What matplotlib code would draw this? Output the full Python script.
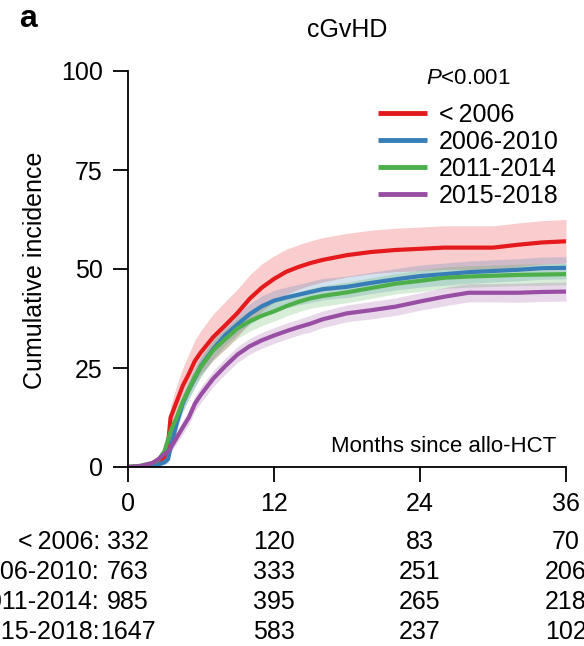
import matplotlib
matplotlib.use("Agg")
import matplotlib.pyplot as plt
import matplotlib.transforms as mtransforms
import numpy as np

plt.rcParams['font.family'] = ['Liberation Sans', 'DejaVu Sans']
plt.rcParams['mathtext.fontset'] = 'custom'
plt.rcParams['mathtext.rm'] = 'Liberation Sans'
plt.rcParams['mathtext.it'] = 'Liberation Sans:italic'

# months since allo-HCT
months = [0, 1, 2, 2.5, 3, 3.3, 3.5, 4, 4.5, 5, 5.5, 6, 7, 8, 9, 10, 11, 12,
          13, 14, 15, 16, 18, 20, 22, 24, 26, 28, 30, 32, 34, 36]

# cumulative incidence (%) per era
inc_lt2006 = [0, 0.2, 0.6, 1.2, 2.5, 6, 12.5, 16.5, 20.5, 23.5, 26.8, 29, 32.8, 35.8, 38.9, 42.5, 45.3, 47.5,
              49.3, 50.5, 51.5, 52.3, 53.5, 54.3, 54.8, 55.1, 55.4, 55.4, 55.4, 56.1, 56.7, 57]
inc_0610 = [0, 0.1, 0.3, 0.6, 1.2, 2, 5, 11, 16, 19.5, 22.5, 25.5, 29.8, 33.3, 36, 38.6, 40.6, 42,
            42.8, 43.5, 44.2, 44.9, 45.5, 46.5, 47.4, 48.2, 48.7, 49.2, 49.5, 49.8, 50.2, 50.3]
inc_1114 = [0, 0.3, 1, 1.8, 4, 7, 9, 12.5, 16.5, 19.5, 22.8, 25.3, 29.5, 32.3, 35, 36.8, 38.2, 39.3,
            40.6, 41.7, 42.6, 43.2, 44.1, 45.2, 46.3, 47, 47.8, 48.1, 48.3, 48.5, 48.6, 48.7]
inc_1518 = [0, 0.2, 1, 2, 3.3, 4, 4.8, 7.4, 10, 12.5, 16, 18.3, 22.3, 25.5, 28.4, 30.5, 32, 33.2,
            34.3, 35.3, 36.2, 37.3, 38.8, 39.6, 40.5, 41.8, 43, 44, 44, 44, 44.2, 44.3]

# half-width of the 95% confidence band
ci_lt2006 = [0, 0.2, 0.4, 0.6, 1, 1.5, 3, 4, 4.5, 5, 5.3, 5.5, 5.8, 6, 6, 6, 6, 5.8,
             5.7, 5.6, 5.6, 5.6, 5.5, 5.5, 5.5, 5.5, 5.5, 5.5, 5.5, 5.5, 5.5, 5.5]
ci_0610 = [0, 0.1, 0.2, 0.4, 0.6, 1, 1.5, 2, 2.2, 2.3, 2.4, 2.5, 2.5, 2.5, 2.5, 2.6, 2.6, 2.6,
           2.6, 2.6, 2.7, 2.7, 2.7, 2.7, 2.7, 2.8, 2.8, 2.8, 2.8, 2.8, 2.8, 2.8]
ci_1114 = [0, 0.2, 0.4, 0.6, 1, 1.3, 1.5, 2, 2.2, 2.3, 2.4, 2.5, 2.5, 2.5, 2.5, 2.5, 2.5, 2.5,
           2.5, 2.5, 2.5, 2.6, 2.6, 2.6, 2.6, 2.7, 2.7, 2.7, 2.7, 2.7, 2.7, 2.7]
ci_1518 = [0, 0.1, 0.3, 0.5, 0.8, 1, 1.2, 1.5, 1.7, 1.8, 1.9, 2, 2, 2, 2, 2, 2, 2,
           2, 2, 2.1, 2.1, 2.1, 2.2, 2.2, 2.2, 2.3, 2.3, 2.3, 2.4, 2.4, 2.4]

eras = ['<\u20092006', '2006-2010', '2011-2014', '2015-2018']
colors = ['#e41a1c', '#377eb8', '#4daf4a', '#984ea3']
curves = [inc_lt2006, inc_0610, inc_1114, inc_1518]
bands = [ci_lt2006, ci_0610, ci_1114, ci_1518]

# numbers at risk
risk_times = [0, 12, 24, 36]
risk_labels = ['<\u20092006:', '2006-2010:', '2011-2014:', '2015-2018:']
at_risk = [[332, 120, 83, 70],
           [763, 333, 251, 206],
           [985, 395, 265, 218],
           [1647, 583, 237, 102]]

W, H = 584, 646
fig = plt.figure(figsize=(W / 100, H / 100), dpi=100)
ax = fig.add_axes([128 / W, 1 - 467 / H, 438 / W, 396 / H])

t = np.array(months)
for c, ci, col in zip(curves, bands, colors):
    c = np.array(c)
    ci = np.array(ci)
    ax.fill_between(t, c - ci, c + ci, color=col, alpha=0.22, lw=0)
for c, col, lab in zip(curves, colors, eras):
    ax.plot(t, c, color=col, lw=3, label=lab, solid_capstyle='butt')

ax.set_xlim(0, 36)
ax.set_ylim(0, 100)
ax.set_xticks([0, 12, 24, 36])
ax.set_yticks([0, 25, 50, 75, 100])
for s in ['top', 'right']:
    ax.spines[s].set_visible(False)
for s in ['left', 'bottom']:
    ax.spines[s].set_linewidth(1.3)
ax.tick_params(direction='out', length=11, width=1.3, labelsize=18, pad=7)

leg = ax.legend(loc='upper left', bbox_to_anchor=(378 / W, 1 - 103 / H),
                bbox_transform=fig.transFigure, frameon=False, fontsize=18,
                handlelength=1.95, handletextpad=0.5, labelspacing=0.12,
                borderpad=0, borderaxespad=0)
for h in leg.get_lines():
    h.set_linewidth(3.5)

fig.text(19 / W, 1 - 19 / H, 'a', fontsize=23, fontweight='bold', ha='left', va='center')
fig.text(347 / W, 1 - 30 / H, 'cGvHD', fontsize=18, ha='center', va='center')
fig.text(468 / W, 1 - 78 / H, r'$P$<0.001', fontsize=16, ha='center', va='center')
fig.text(556 / W, 1 - 447 / H, 'Months since allo-HCT', fontsize=16, ha='right', va='center')
fig.text(35 / W, 1 - 270 / H, 'Cumulative incidence', fontsize=18, rotation=90,
         ha='center', va='center')

trans = mtransforms.blended_transform_factory(ax.transData, fig.transFigure)
row_y = [542, 572, 602, 632]
for lab, counts, y in zip(risk_labels, at_risk, row_y):
    fig.text(100 / W, 1 - y / H, lab, fontsize=18, ha='right', va='center')
    for x, n in zip(risk_times, counts):
        ax.text(x, 1 - y / H, str(n), transform=trans, fontsize=18,
                ha='center', va='center', clip_on=False)

fig.savefig('out.png', dpi=100)
